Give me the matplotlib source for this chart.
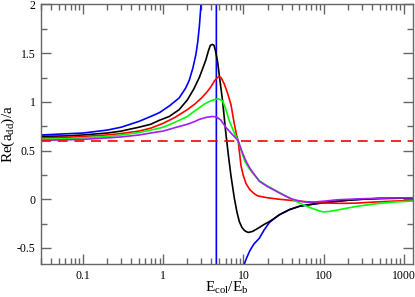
import matplotlib
matplotlib.use("Agg")
import matplotlib.pyplot as plt
from matplotlib.ticker import LogLocator, NullFormatter, FixedLocator, MultipleLocator

plt.rcParams['font.family'] = ['Liberation Serif', 'DejaVu Serif']
plt.rcParams['mathtext.fontset'] = 'custom'
plt.rcParams['mathtext.rm'] = 'Liberation Serif'
plt.rcParams['mathtext.it'] = 'Liberation Serif'

# Blue curve (left branch to +inf, right branch from -inf)
blue_x = [0.03, 0.1, 0.2, 0.3, 0.5, 0.7, 0.9, 1.2, 1.58, 1.9, 2.11, 2.35, 2.56, 2.7, 2.82, 2.96, 3.1, 3.3, 3.6, 4.0, 4.3, 4.5, 4.6,
          4.6, 4.7, 5.0, 6.0, 7.0, 8.0, 9.0, 9.6, 10.1, 11.0, 12.0, 13.5, 15.8, 18.0, 21.0, 24.0, 28.0, 37.6, 50.0, 67.0, 100.0,
          150.0, 200.0, 300.0, 500.0, 1000.0, 1300.0]
blue_y = [0.66, 0.68, 0.71, 0.74, 0.80, 0.85, 0.89, 0.96, 1.04, 1.14, 1.22, 1.35, 1.49, 1.62, 1.77, 2.0, 2.3, 2.8, 4.0, 7.0, 15.0, 50.0, 1000.0,
          -1000.0, -100.0, -20.0, -3.5, -1.8, -1.1, -0.85, -0.76, -0.68, -0.6, -0.53, -0.46, -0.40, -0.32, -0.24, -0.2, -0.16, -0.106, -0.072, -0.055, -0.035,
          -0.02, -0.01, 0.0, 0.008, 0.012, 0.013]

black_x = [0.03, 0.06, 0.1, 0.2, 0.3, 0.5, 0.7, 0.89, 1.19, 1.58, 2.0, 2.4, 2.82, 3.1, 3.4, 3.65, 3.87, 4.1, 4.3, 4.5, 4.77, 5.1, 5.5,
           6.0, 6.5, 7.0, 7.7, 8.3, 8.9, 9.6, 10.3, 11.0, 11.66, 13.0, 15.8, 18.0, 21.0, 24.0, 28.0, 37.6, 50.0, 67.0, 100.0,
           150.0, 200.0, 300.0, 500.0, 1000.0, 1300.0]
black_y = [0.645, 0.65, 0.66, 0.68, 0.70, 0.74, 0.77, 0.81, 0.85, 0.92, 1.02, 1.13, 1.25, 1.34, 1.43, 1.52, 1.58, 1.59, 1.58, 1.52, 1.41, 1.22, 1.01,
           0.70, 0.45, 0.24, 0.013, -0.13, -0.23, -0.29, -0.32, -0.335, -0.34, -0.33, -0.29, -0.26, -0.23, -0.2, -0.16, -0.106, -0.072, -0.055, -0.035,
           -0.02, -0.01, 0.0, 0.008, 0.012, 0.013]

red_x = [0.03, 0.06, 0.1, 0.2, 0.3, 0.5, 0.7, 1.0, 1.4, 2.0, 2.5, 3.0, 3.42, 3.9, 4.4, 4.75, 5.0, 5.3, 5.8, 6.4, 7.0, 7.6, 8.2, 8.6,
         9.35, 10.0, 10.8, 12.0, 13.5, 15.0, 20.0, 28.0, 40.0, 60.0, 100.0, 170.0, 250.0, 400.0, 700.0, 1300.0]
red_y = [0.63, 0.635, 0.645, 0.66, 0.675, 0.70, 0.73, 0.78, 0.84, 0.92, 0.98, 1.04, 1.09, 1.15, 1.22, 1.25, 1.26, 1.245, 1.18, 1.08, 0.97, 0.80, 0.66, 0.60,
         0.34, 0.24, 0.16, 0.10, 0.06, 0.035, 0.015, 0.0, -0.012, -0.025, -0.038, -0.042, -0.04, -0.03, -0.02, -0.012]

green_x = [0.03, 0.06, 0.1, 0.2, 0.3, 0.5, 0.7, 1.0, 1.4, 2.0, 2.5, 2.82, 3.3, 3.9, 4.4, 4.92, 5.5, 6.0, 6.7, 7.2, 7.7, 8.6, 9.4,
           10.3, 11.5, 13.0, 15.8, 20.0, 24.0, 28.0, 37.6, 45.0, 55.0, 70.0, 85.0, 98.0, 120.0, 158.0, 250.0, 410.0, 700.0, 1300.0]
green_y = [0.615, 0.62, 0.63, 0.645, 0.66, 0.685, 0.71, 0.74, 0.79, 0.85, 0.91, 0.94, 0.98, 1.01, 1.025, 1.03, 1.01, 0.93, 0.80, 0.74, 0.68, 0.60, 0.50,
           0.40, 0.33, 0.27, 0.19, 0.135, 0.10, 0.07, 0.013, -0.02, -0.055, -0.09, -0.115, -0.13, -0.125, -0.106, -0.075, -0.05, -0.03, -0.018]

purple_x = [0.03, 0.06, 0.1, 0.2, 0.3, 0.5, 0.7, 1.0, 1.4, 2.0, 2.5, 2.82, 3.4, 4.14, 4.6, 5.2, 6.1, 7.0, 8.0, 8.6, 9.6, 10.8,
            12.0, 13.0, 15.8, 20.0, 24.0, 28.0, 35.0, 41.0, 55.0, 67.0, 100.0, 150.0, 300.0, 670.0, 1300.0]
purple_y = [0.605, 0.61, 0.615, 0.63, 0.64, 0.66, 0.68, 0.70, 0.735, 0.77, 0.80, 0.82, 0.84, 0.85, 0.845, 0.815, 0.735, 0.68, 0.63, 0.60, 0.49, 0.39,
            0.32, 0.28, 0.185, 0.13, 0.095, 0.065, 0.025, 0.0, -0.025, -0.032, -0.02, -0.005, 0.005, 0.013, 0.015]

dashed_level = 0.6

x_ticks = [0.1, 1, 10, 100, 1000]
x_labels = ["0.1", "1", "10", "100", "1000"]
y_ticks = [-0.5, 0, 0.5, 1, 1.5, 2]
y_labels = ["-0.5", "0", "0.5", "1", "1.5", "2"]

fig = plt.figure(figsize=(4.15, 2.97), dpi=100)
ax = fig.add_axes([0.099, 0.111, 0.896, 0.874])

lw = 1.2
ax.plot(blue_x, blue_y, color='#0000ff', lw=lw)
ax.plot(black_x, black_y, color='#000000', lw=lw)
ax.plot(red_x, red_y, color='#ff0000', lw=lw)
ax.plot(green_x, green_y, color='#00ff00', lw=lw)
ax.plot(purple_x, purple_y, color='#a020f0', lw=lw)
ax.axhline(dashed_level, color='#ff0000', lw=lw, ls=(0, (6, 4)))

ax.set_xscale('log')
ax.set_xlim(0.03, 1300)
ax.set_ylim(-0.665, 2.0)

ax.xaxis.set_major_locator(FixedLocator(x_ticks))
ax.set_xticklabels(x_labels)
ax.xaxis.set_minor_locator(LogLocator(base=10, subs=range(2, 10), numticks=20))
ax.xaxis.set_minor_formatter(NullFormatter())
ax.yaxis.set_major_locator(FixedLocator(y_ticks))
ax.set_yticklabels(y_labels)
ax.yaxis.set_minor_locator(MultipleLocator(0.25))

spine_c = '#666666'
for s in ax.spines.values():
    s.set_color(spine_c)
    s.set_linewidth(1.0)
ax.tick_params(which='both', direction='in', top=True, right=True, color=spine_c, labelsize=8.5, width=1.0)
ax.tick_params(which='major', length=7, pad=4)
ax.tick_params(which='minor', length=4)

ax.set_xlabel(r'E$_{\rm col}$/E$_{\rm b}$', fontsize=11, labelpad=-1)
ax.set_ylabel(r'Re(a$_{\rm dd}$)/a', fontsize=11, labelpad=0)

fig.savefig('out.png', dpi=100)
